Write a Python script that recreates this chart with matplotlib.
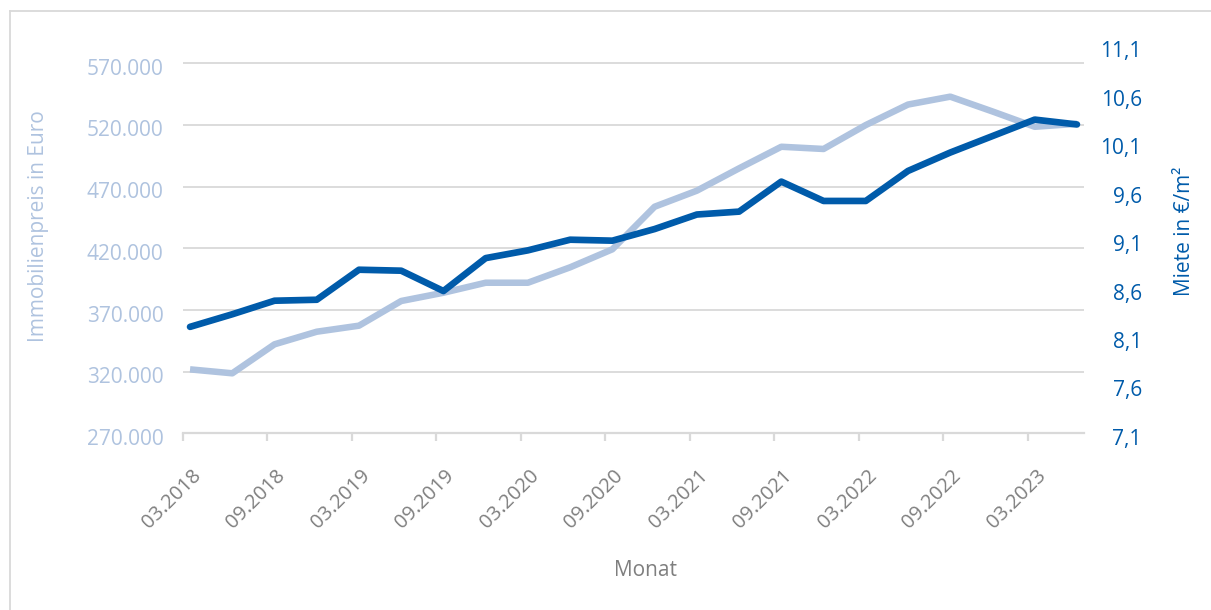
import numpy as np
import matplotlib.pyplot as plt
import matplotlib.transforms as mtransforms
from matplotlib.lines import Line2D

# quarterly data, 03.2018 .. 06.2023
monate = ['03.2018', '06.2018', '09.2018', '12.2018', '03.2019', '06.2019', '09.2019', '12.2019',
          '03.2020', '06.2020', '09.2020', '12.2020', '03.2021', '06.2021', '09.2021', '12.2021',
          '03.2022', '06.2022', '09.2022', '12.2022', '03.2023', '06.2023']
preis = [321900, 318700, 342200, 352400, 357300, 377300, 384000, 392100, 392100, 404600, 419200,
         453700, 466700, 484800, 502300, 500500, 519900, 536500, 542900, 530900, 518500, 520900]
miete = [8.20, 8.33, 8.47, 8.48, 8.79, 8.78, 8.57, 8.91, 8.99, 9.10, 9.09, 9.21, 9.36, 9.39,
         9.70, 9.50, 9.50, 9.81, 10.00, 10.17, 10.34, 10.29]
tick_labels = monate[::2]

col_light = '#AFC3DF'
col_dark = '#005BAA'
col_grid = '#D9D9D9'
col_grey = '#7F7F7F'

plt.rcParams['font.family'] = ['Open Sans', 'DejaVu Sans']

fig = plt.figure(figsize=(12.11, 6.10), dpi=100)
ax = fig.add_axes([183/1211, 1-433.4/610, (1084-183)/1211, (433.4-46)/610])
ax2 = ax.twinx()

# month index: slot centres, one slot per month
x = np.arange(len(monate))*3 + 0.5

ax.plot(x, preis, color=col_light, lw=4.7, solid_capstyle='butt', solid_joinstyle='round', zorder=3)
ax2.plot(x, miete, color=col_dark, lw=4.8, solid_capstyle='round', solid_joinstyle='round', zorder=3)

ax.set_xlim(0, 64)
ax.set_ylim(270000, 583950)
ax.set_yticks(np.arange(270000, 570001, 50000))
ax.set_yticklabels([f'{v:,}'.replace(',', '.') for v in range(270000, 570001, 50000)])
ax2.set_ylim(7.1, 11.1)
ax2.set_yticks(np.arange(7.1, 11.11, 0.5))
ax2.set_yticklabels([f'{v:.1f}'.replace('.', ',') for v in np.arange(7.1, 11.11, 0.5)])

ax.grid(axis='y', color=col_grid, lw=1.3)
ax.set_axisbelow(True)
for a in (ax, ax2):
    for s in a.spines.values():
        s.set_visible(False)
ax.spines['bottom'].set_visible(True)
ax.spines['bottom'].set_color(col_grid)
ax.spines['bottom'].set_linewidth(1.6)

ax.set_xticks(np.arange(0, 61, 6))
ax.set_xticklabels(tick_labels, rotation=45, ha='right', va='top', rotation_mode='anchor')
ax.tick_params(axis='x', colors=col_grid, length=6, width=1.6, pad=17, labelsize=14.5, labelcolor=col_grey)
ax.tick_params(axis='y', length=0, pad=14, labelsize=15, labelcolor=col_light)
ax2.tick_params(axis='y', length=0, pad=20, labelsize=15, labelcolor=col_dark)
down = mtransforms.ScaledTranslation(0, -0.035, fig.dpi_scale_trans)
for lab in ax.get_yticklabels():
    lab.set_transform(lab.get_transform() + down)
for lab in ax2.get_yticklabels():
    lab.set_horizontalalignment('right')
    lab.set_transform(lab.get_transform() + down +
                      mtransforms.ScaledTranslation(0.3, 0, fig.dpi_scale_trans))
for lab in ax.get_xticklabels():
    lab.set_transform(lab.get_transform() + mtransforms.ScaledTranslation(0.08, 0, fig.dpi_scale_trans))

fig.text(39/1211, 1-226/610, 'Immobilienpreis in Euro', rotation=90, ha='center', va='center',
         fontsize=15, color=col_light)
fig.text(1184/1211, 1-231/610, 'Miete in €/m²', rotation=90, ha='center', va='center',
         fontsize=15, color=col_dark)
fig.text(646/1211, 1-570/610, 'Monat', ha='center', va='center', fontsize=15, color=col_grey)

# chart frame
fig.add_artist(Line2D([9.5/1211, 1.0], [1-10.5/610]*2, color=col_grid, lw=1.3))
fig.add_artist(Line2D([9.5/1211]*2, [0, 1-10.5/610], color=col_grid, lw=1.3))

fig.savefig('out.png', dpi=100)
